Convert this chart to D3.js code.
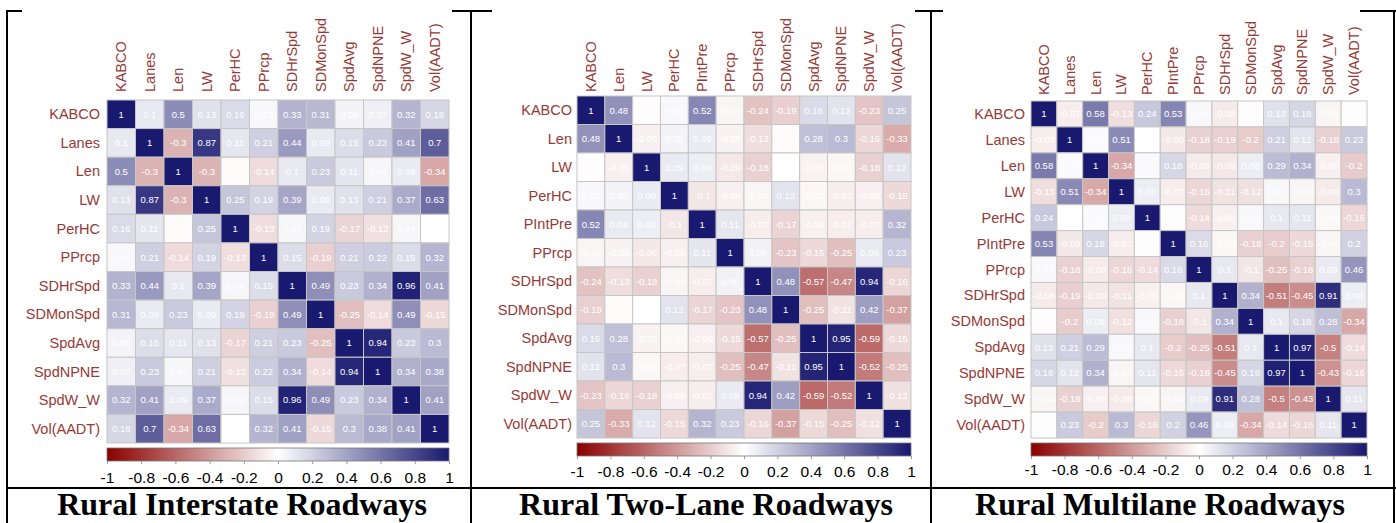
<!DOCTYPE html>
<html><head><meta charset="utf-8">
<script src="https://cdn.jsdelivr.net/npm/d3@7"></script>
<style>body{margin:0;background:#fff;} svg{display:block}</style>
</head><body><svg id="c" width="1396" height="523"></svg>
<script>
// ---------- DATA ----------
const interstateVars = ["KABCO","Lanes","Len","LW","PerHC","PPrcp","SDHrSpd","SDMonSpd","SpdAvg","SpdNPNE","SpdW_W","Vol(AADT)"];
const interstateCorr = [
  [1, 0.1, 0.5, 0.13, 0.16, 0.03, 0.33, 0.31, 0.05, 0.07, 0.32, 0.18],
  [0.1, 1, -0.3, 0.87, 0.11, 0.21, 0.44, 0.09, 0.15, 0.23, 0.41, 0.7],
  [0.5, -0.3, 1, -0.3, -0.02, -0.14, 0.1, 0.23, 0.11, 0.04, 0.09, -0.34],
  [0.13, 0.87, -0.3, 1, 0.25, 0.19, 0.39, 0.09, 0.13, 0.21, 0.37, 0.63],
  [0.16, 0.11, -0.02, 0.25, 1, -0.13, 0.04, 0.19, -0.17, -0.12, 0.04, 0],
  [0.03, 0.21, -0.14, 0.19, -0.13, 1, 0.15, -0.19, 0.21, 0.22, 0.15, 0.32],
  [0.33, 0.44, 0.1, 0.39, 0.04, 0.15, 1, 0.49, 0.23, 0.34, 0.96, 0.41],
  [0.31, 0.09, 0.23, 0.09, 0.19, -0.19, 0.49, 1, -0.25, -0.14, 0.49, -0.15],
  [0.05, 0.15, 0.11, 0.13, -0.17, 0.21, 0.23, -0.25, 1, 0.94, 0.23, 0.3],
  [0.07, 0.23, 0.04, 0.21, -0.12, 0.22, 0.34, -0.14, 0.94, 1, 0.34, 0.38],
  [0.32, 0.41, 0.09, 0.37, 0.04, 0.15, 0.96, 0.49, 0.23, 0.34, 1, 0.41],
  [0.18, 0.7, -0.34, 0.63, 0, 0.32, 0.41, -0.15, 0.3, 0.38, 0.41, 1]
];

const twoLaneVars = ["KABCO","Len","LW","PerHC","PIntPre","PPrcp","SDHrSpd","SDMonSpd","SpdAvg","SpdNPNE","SpdW_W","Vol(AADT)"];
const twoLaneCorr = [
  [1, 0.48, -0.01, 0.03, 0.52, -0.04, -0.24, -0.19, 0.16, 0.12, -0.23, 0.25],
  [0.48, 1, -0.06, 0.05, 0.09, -0.05, -0.13, -0.02, 0.28, 0.3, -0.16, -0.33],
  [-0.01, -0.06, 1, 0.09, 0.08, -0.09, -0.18, 0, -0.05, -0.03, -0.18, 0.12],
  [0.03, 0.05, 0.09, 1, -0.1, -0.06, -0.04, 0.12, -0.03, -0.07, -0.06, -0.15],
  [0.52, 0.09, 0.08, -0.1, 1, 0.11, -0.07, -0.17, -0.06, -0.07, -0.07, 0.32],
  [-0.04, -0.05, -0.09, -0.06, 0.11, 1, 0.06, -0.23, -0.15, -0.25, 0.09, 0.23],
  [-0.24, -0.13, -0.18, -0.04, -0.07, 0.06, 1, 0.48, -0.57, -0.47, 0.94, -0.16],
  [-0.19, -0.02, 0, 0.12, -0.17, -0.23, 0.48, 1, -0.25, -0.11, 0.42, -0.37],
  [0.16, 0.28, -0.05, -0.03, -0.06, -0.15, -0.57, -0.25, 1, 0.95, -0.59, -0.15],
  [0.12, 0.3, -0.03, -0.07, -0.07, -0.25, -0.47, -0.11, 0.95, 1, -0.52, -0.25],
  [-0.23, -0.16, -0.18, -0.06, -0.07, 0.09, 0.94, 0.42, -0.59, -0.52, 1, -0.12],
  [0.25, -0.33, 0.12, -0.15, 0.32, 0.23, -0.16, -0.37, -0.15, -0.25, -0.12, 1]
];

const multilaneVars = ["KABCO","Lanes","Len","LW","PerHC","PIntPre","PPrcp","SDHrSpd","SDMonSpd","SpdAvg","SpdNPNE","SpdW_W","Vol(AADT)"];
const multilaneCorr = [
  [1, -0.07, 0.58, -0.13, 0.24, 0.53, 0.03, -0.08, -0.01, 0.13, 0.18, -0.04, 0.01],
  [-0.07, 1, 0.02, 0.51, 0, -0.09, -0.18, -0.19, -0.2, 0.21, 0.12, -0.18, 0.23],
  [0.58, 0.02, 1, -0.34, 0.02, 0.18, -0.08, -0.09, 0.08, 0.29, 0.34, -0.06, -0.2],
  [-0.13, 0.51, -0.34, 1, 0.08, -0.07, -0.16, -0.11, -0.12, 0.03, -0.04, -0.08, 0.3],
  [0.24, 0, 0.02, 0.08, 1, 0.01, -0.14, -0.06, 0.03, 0.1, 0.11, -0.03, -0.16],
  [0.53, -0.09, 0.18, -0.07, 0.01, 1, 0.16, -0.03, -0.18, -0.2, -0.15, -0.04, 0.2],
  [0.03, -0.18, -0.08, -0.16, -0.14, 0.16, 1, 0.1, -0.1, -0.25, -0.18, 0.09, 0.46],
  [-0.08, -0.19, -0.09, -0.11, -0.06, -0.03, 0.1, 1, 0.34, -0.51, -0.45, 0.91, 0.08],
  [-0.01, -0.2, 0.08, -0.12, 0.03, -0.18, -0.1, 0.34, 1, 0.1, 0.18, 0.28, -0.34],
  [0.13, 0.21, 0.29, 0.03, 0.1, -0.2, -0.25, -0.51, 0.1, 1, 0.97, -0.5, -0.14],
  [0.18, 0.12, 0.34, -0.04, 0.11, -0.15, -0.18, -0.45, 0.18, 0.97, 1, -0.43, -0.16],
  [-0.04, -0.18, -0.06, -0.08, -0.03, -0.04, 0.09, 0.91, 0.28, -0.5, -0.43, 1, 0.11],
  [0.01, 0.23, -0.2, 0.3, -0.16, 0.2, 0.46, 0.08, -0.34, -0.14, -0.16, 0.11, 1]
];

const legendTicks = [-1, -0.8, -0.6, -0.4, -0.2, 0, 0.2, 0.4, 0.6, 0.8, 1];
const captions = ["Rural Interstate Roadways", "Rural Two-Lane Roadways", "Rural Multilane Roadways"];

// ---------- LAYOUT ----------
const svg = d3.select("#c");
const color = d3.scaleLinear().domain([-1, 0, 1]).range(["#8B0000", "#ffffff", "#191970"]);
const labelColor = "#953a36";

const panels = [
  {vars: interstateVars, corr: interstateCorr, caption: captions[0],
   gx: 107, gy: 100, gw: 342, gh: 343, rowGap: 7, colGap: 8,
   cbY: 448, cbH: 13, tickBase: 483, capX: 242, img: [22, 452]},
  {vars: twoLaneVars, corr: twoLaneCorr, caption: captions[1],
   gx: 577, gy: 96, gw: 334, gh: 342, rowGap: 5, colGap: 4,
   cbY: 443, cbH: 13, tickBase: 477, capX: 706, img: [492, 915]},
  {vars: multilaneVars, corr: multilaneCorr, caption: captions[2],
   gx: 1031, gy: 101, gw: 336, gh: 337, rowGap: 6, colGap: 6,
   cbY: 443, cbH: 13, tickBase: 475, capX: 1160, img: [943, 1360]}
];

// table lines
const tbl = svg.append("g").attr("stroke", "#000").attr("stroke-width", 2);
tbl.append("line").attr("x1", 6).attr("x2", 1396).attr("y1", 11).attr("y2", 11);
tbl.append("line").attr("x1", 6).attr("x2", 1396).attr("y1", 488).attr("y2", 488);
[7, 471, 931, 1394].forEach(xv => {
  tbl.append("line").attr("x1", xv).attr("x2", xv).attr("y1", 10).attr("y2", 523);
});

// gradient
const defs = svg.append("defs");
const grad = defs.append("linearGradient").attr("id", "cbar").attr("x1", "0%").attr("x2", "100%");
d3.range(0, 1.0001, 0.05).forEach(t => {
  grad.append("stop").attr("offset", (t * 100) + "%").attr("stop-color", color(-1 + 2 * t));
});

panels.forEach((p, pi) => {
  svg.append("rect").attr("x", p.img[0]).attr("y", 0).attr("width", p.img[1] - p.img[0]).attr("height", 486).attr("fill", "#fff");
  const g = svg.append("g");
  const x = d3.scaleBand().domain(p.vars).range([p.gx, p.gx + p.gw]);
  const y = d3.scaleBand().domain(p.vars).range([p.gy, p.gy + p.gh]);
  const cells = [];
  p.corr.forEach((row, i) => row.forEach((v, j) => cells.push({r: p.vars[i], c: p.vars[j], v})));

  g.selectAll("rect.cell").data(cells).join("rect").attr("class", "cell")
    .attr("x", d => x(d.c)).attr("y", d => y(d.r))
    .attr("width", x.bandwidth()).attr("height", y.bandwidth())
    .attr("fill", d => color(d.v)).attr("stroke", "#c6c6c6").attr("stroke-width", 1);

  g.selectAll("text.val").data(cells).join("text").attr("class", "val")
    .attr("x", d => x(d.c) + x.bandwidth() / 2).attr("y", d => y(d.r) + y.bandwidth() / 2 + 3.3)
    .attr("text-anchor", "middle").attr("fill", "#fff")
    .attr("font-family", "Liberation Sans, Arial, sans-serif").attr("font-size", 9.5)
    .text(d => String(d.v));

  g.selectAll("text.row").data(p.vars).join("text").attr("class", "row")
    .attr("x", p.gx - p.rowGap).attr("y", d => y(d) + y.bandwidth() / 2 + 5)
    .attr("text-anchor", "end").attr("fill", labelColor)
    .attr("font-family", "Liberation Sans, Arial, sans-serif").attr("font-size", 14.5)
    .text(d => d);

  g.selectAll("text.col").data(p.vars).join("text").attr("class", "col")
    .attr("transform", d => `translate(${x(d) + x.bandwidth() / 2 + 5},${p.gy - p.colGap}) rotate(-90)`)
    .attr("text-anchor", "start").attr("fill", labelColor)
    .attr("font-family", "Liberation Sans, Arial, sans-serif").attr("font-size", 14.5)
    .text(d => d);

  g.append("rect").attr("x", p.gx).attr("y", p.cbY).attr("width", p.gw).attr("height", p.cbH)
    .attr("fill", "url(#cbar)").attr("stroke", "#777").attr("stroke-width", 0.8);
  const cs = d3.scaleLinear().domain([-1, 1]).range([p.gx, p.gx + p.gw]);
  const ax = g.append("g").attr("transform", `translate(0,${p.cbY + p.cbH})`)
    .call(d3.axisBottom(cs).tickValues(legendTicks).tickSize(3).tickFormat(d => String(d)));
  ax.select(".domain").remove();
  ax.selectAll(".tick line").attr("stroke", "#999");
  ax.selectAll(".tick text").attr("y", p.tickBase - (p.cbY + p.cbH)).attr("dy", 0)
    .attr("font-family", "Liberation Sans, Arial, sans-serif").attr("font-size", 15.5).attr("fill", "#000");

  svg.append("text").attr("x", p.capX).attr("y", 515).attr("text-anchor", "middle")
    .attr("font-family", "Liberation Serif, Times New Roman, serif").attr("font-weight", "bold")
    .attr("font-size", 32).attr("fill", "#000").text(p.caption);
});
</script></body></html>
